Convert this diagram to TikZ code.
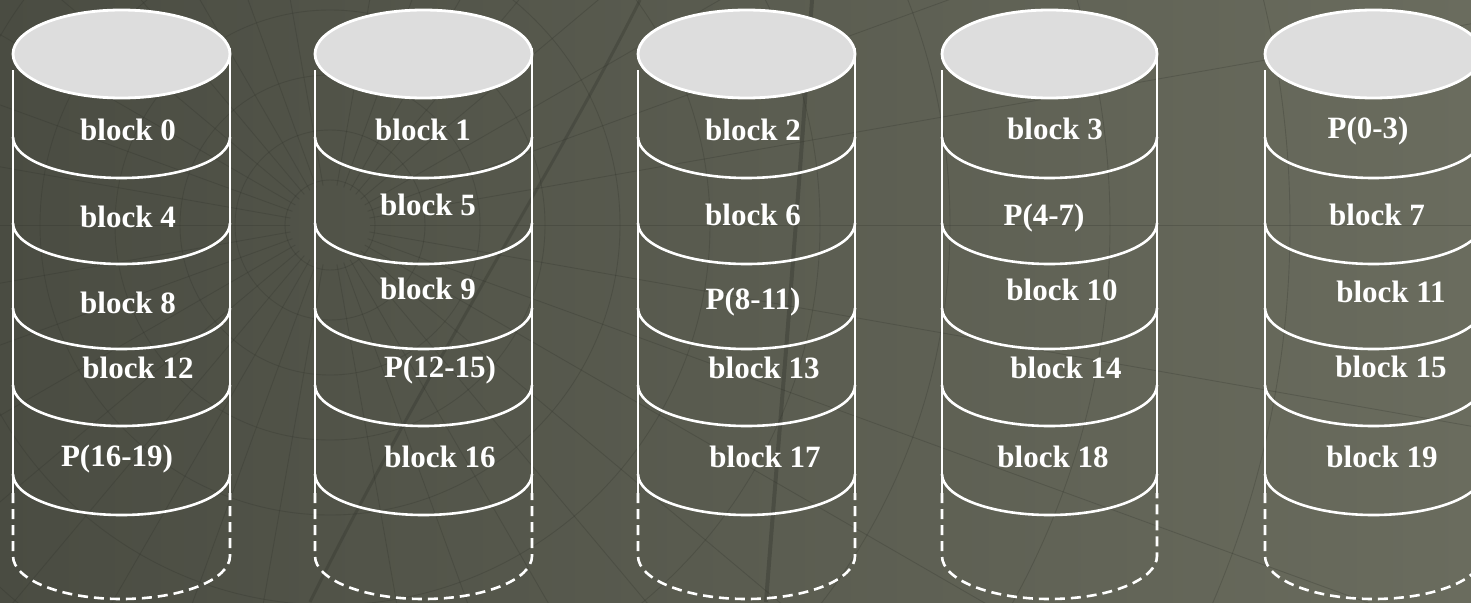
\documentclass[tikz,border=0pt]{standalone}
\usepackage{fontspec}
\setmainfont{Liberation Serif}
\definecolor{bgleft}{HTML}{4A4C42}
\definecolor{bgright}{HTML}{6A6C5E}
\definecolor{disktop}{HTML}{DDDDDD}
\definecolor{meshline}{HTML}{2E3029}
\tikzset{
  side/.style={draw=white, line width=2.6pt},
  sidedash/.style={draw=white, line width=2.6pt, dash pattern=on 10pt off 6pt},
  toplid/.style={draw=white, line width=2.8pt, fill=disktop},
  label/.style={text=white, font=\fontsize{31}{31}\selectfont\bfseries, anchor=base, inner sep=0pt},
  mesh/.style={draw=meshline, line width=0.9pt, opacity=0.25},
}
% lower half of an ellipse from (#1,#3) to (#2,#3), sagging by #4
\newcommand\sagarc[4]{%
  (#1,#3) .. controls (#1,#3+0.5523*#4) and ({(#1+#2)/2-0.5523*(#2-#1)/2},#3+#4) ..
  ({(#1+#2)/2},#3+#4) .. controls ({(#1+#2)/2+0.5523*(#2-#1)/2},#3+#4) and (#2,#3+0.5523*#4) .. (#2,#3)}
% one disk drawn between the left edge #1 and the right edge #2
\newcommand\drawdisk[2]{%
  \draw[side] (#1,70) -- (#1,493);
  \draw[side] (#2,48) -- (#2,493);
  \foreach \yy in {137,223,308,385,474} {\draw[side] \sagarc{#1}{#2}{\yy}{41};}
  \draw[sidedash] (#1,493) -- \sagarc{#1}{#2}{556}{43} -- (#2,493);
  \draw[toplid] ({(#1+#2)/2},54) ellipse [x radius={(#2-#1)/2}, y radius=44];
}
\begin{document}
\begin{tikzpicture}[x=1pt,y=-1pt]
\useasboundingbox (0,0) rectangle (1471,602);
\clip (0,0) rectangle (1471,602);
% backdrop
\shade[left color=bgleft, right color=bgright] (0,0) rectangle (1471,602);
\begin{scope}[mesh]
  \foreach \a in {-80,-70,...,80} {\draw (330,225) ++(\a:40) -- ++(\a:1300);}
  \foreach \a in {100,110,...,260} {\draw (330,225) ++(\a:40) -- ++(\a:500);}
  \foreach \r in {45,95,150,215,290,380,490,620,780,960} {\draw (330,225) circle [radius=\r];}
\end{scope}
\draw[meshline, line width=4pt, opacity=0.35] (812,0) .. controls (795,250) and (780,420) .. (766,602);
\draw[meshline, line width=3pt, opacity=0.3] (640,0) .. controls (560,160) and (420,380) .. (310,602);

% the five disks
\drawdisk{13}{230}
\drawdisk{315}{532}
\drawdisk{638}{855}
\drawdisk{942}{1157}
\drawdisk{1265}{1482}

% disk 0
\node[label] (d0r0) at (128,140) {block 0};
\node[label] (d0r1) at (128,227) {block 4};
\node[label] (d0r2) at (128,313) {block 8};
\node[label] (d0r3) at (138,378) {block 12};
\node[label] (d0r4) at (117,466) {P(16-19)};
% disk 1
\node[label] (d1r0) at (423,140) {block 1};
\node[label] (d1r1) at (428,215) {block 5};
\node[label] (d1r2) at (428,299) {block 9};
\node[label] (d1r3) at (440,377) {P(12-15)};
\node[label] (d1r4) at (440,467) {block 16};
% disk 2
\node[label] (d2r0) at (753,140) {block 2};
\node[label] (d2r1) at (753,225) {block 6};
\node[label] (d2r2) at (753,309) {P(8-11)};
\node[label] (d2r3) at (764,378) {block 13};
\node[label] (d2r4) at (765,467) {block 17};
% disk 3
\node[label] (d3r0) at (1055,139) {block 3};
\node[label] (d3r1) at (1044,225) {P(4-7)};
\node[label] (d3r2) at (1062,300) {block 10};
\node[label] (d3r3) at (1066,378) {block 14};
\node[label] (d3r4) at (1053,467) {block 18};
% disk 4
\node[label] (d4r0) at (1368,138) {P(0-3)};
\node[label] (d4r1) at (1377,225) {block 7};
\node[label] (d4r2) at (1391,302) {block 11};
\node[label] (d4r3) at (1391,377) {block 15};
\node[label] (d4r4) at (1382,467) {block 19};
\end{tikzpicture}
\end{document}
